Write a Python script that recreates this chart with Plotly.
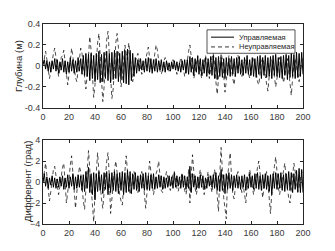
import plotly.graph_objects as go

t = list(range(0, 201))

depth_uncontrolled = [
    0.0, 0.08, 0.14, 0.06, -0.06, -0.12, -0.05, 0.06, 0.12, 0.17,
    0.07, -0.04, -0.10, -0.03, 0.08, 0.10, 0.15, 0.04, -0.09, -0.18,
    -0.08, 0.08, 0.17, 0.09, -0.03, -0.11, -0.15, -0.02, 0.10, 0.17,
    0.12, 0.0, -0.12, -0.22, -0.08, 0.12, 0.28, 0.15, -0.08, -0.30,
    -0.18, 0.06, 0.22, 0.31, 0.10, -0.15, -0.34, -0.20, 0.05, 0.25,
    0.33, 0.12, -0.12, -0.31, -0.22, 0.02, 0.22, 0.31, 0.18, -0.04,
    -0.20, -0.12, 0.08, 0.20, 0.12, 0.06, 0.22, 0.08, -0.06, -0.15,
    -0.06, 0.04, 0.08, 0.12, 0.05, -0.03, -0.08, -0.05, 0.02, 0.08,
    0.12, 0.18, 0.08, -0.02, -0.05, 0.01, 0.12, 0.20, 0.15, 0.02,
    -0.05, -0.08, -0.03, 0.05, 0.08, 0.04, -0.02, -0.05, -0.02, 0.03,
    0.06, 0.03, -0.03, -0.08, -0.04, 0.02, 0.08, 0.04, -0.04, -0.10,
    -0.04, 0.06, 0.14, 0.20, 0.08, -0.04, -0.12, -0.06, 0.04, 0.10,
    0.05, -0.05, -0.12, -0.05, 0.05, 0.10, 0.04, -0.06, -0.12, -0.03,
    0.08, 0.12, 0.02, -0.15, -0.27, -0.12, 0.04, 0.12, 0.06, -0.10,
    -0.25, -0.14, 0.02, 0.10, 0.06, -0.04, -0.12, -0.18, -0.06, 0.05,
    0.10, 0.03, -0.05, -0.10, -0.04, 0.04, 0.07, 0.02, -0.06, -0.12,
    -0.05, 0.04, 0.08, 0.03, -0.08, -0.15, -0.18, -0.06, 0.04, 0.08,
    0.02, -0.10, -0.18, -0.24, -0.10, 0.03, 0.06, 0.0, -0.10, -0.20,
    -0.12, 0.0, 0.08, 0.03, -0.08, -0.16, -0.10, 0.0, 0.07, -0.05,
    -0.18, -0.28, -0.12, 0.02, 0.07, 0.0, -0.08, -0.15, -0.05, 0.05,
    0.10,
]

depth_controlled = [
    0.02, 0.06, -0.03, 0.05, -0.05, 0.04, -0.06, 0.05, -0.03, 0.07,
    -0.05, 0.06, -0.07, 0.04, -0.04, 0.07, -0.06, 0.05, -0.08, 0.04,
    -0.06, 0.08, -0.05, 0.06, -0.07, 0.05, -0.06, 0.08, -0.05, 0.07,
    -0.08, 0.10, -0.09, 0.12, -0.10, 0.11, -0.14, 0.12, -0.12, 0.10,
    -0.15, 0.12, -0.13, 0.14, -0.16, 0.11, -0.15, 0.13, -0.12, 0.14,
    -0.14, 0.12, -0.16, 0.13, -0.13, 0.15, -0.12, 0.14, -0.15, 0.12,
    -0.13, 0.14, -0.16, 0.15, -0.17, 0.16, -0.18, 0.15, -0.14, 0.12,
    -0.10, 0.08, -0.07, 0.06, -0.05, 0.07, -0.04, 0.05, -0.06, 0.07,
    -0.05, 0.08, -0.06, 0.07, -0.07, 0.06, -0.05, 0.07, -0.06, 0.05,
    -0.04, 0.06, -0.05, 0.04, -0.06, 0.05, -0.04, 0.03, -0.05, 0.04,
    -0.03, 0.05, -0.04, 0.04, -0.05, 0.03, -0.06, 0.05, -0.04, 0.06,
    -0.07, 0.06, -0.08, 0.09, -0.06, 0.08, -0.09, 0.07, -0.06, 0.09,
    -0.08, 0.07, -0.09, 0.06, -0.07, 0.08, -0.10, 0.07, -0.08, 0.09,
    -0.09, 0.10, -0.12, 0.08, -0.13, 0.09, -0.10, 0.08, -0.11, 0.07,
    -0.12, 0.08, -0.09, 0.07, -0.10, 0.09, -0.08, 0.07, -0.10, 0.08,
    -0.07, 0.09, -0.08, 0.06, -0.09, 0.08, -0.07, 0.10, -0.08, 0.06,
    -0.09, 0.08, -0.10, 0.07, -0.11, 0.09, -0.08, 0.10, -0.12, 0.08,
    -0.09, 0.10, -0.11, 0.08, -0.10, 0.09, -0.12, 0.10, -0.09, 0.11,
    -0.10, 0.08, -0.11, 0.09, -0.12, 0.10, -0.09, 0.11, -0.13, 0.10,
    -0.11, 0.12, -0.10, 0.11, -0.12, 0.13, -0.11, 0.12, -0.10, 0.13,
    -0.08,
]

pitch_uncontrolled = [
    0.0, 1.0, 1.8, 0.6, -0.8, -1.8, -0.9, 0.5, 1.2, 1.5,
    0.4, -0.6, -1.2, -0.4, 0.6, 1.4, 1.8, 0.2, -2.0, -1.0,
    0.5, 1.6, 2.5, 0.8, -1.2, -2.5, -1.0, 0.6, 1.5, 1.0,
    -0.6, -1.8, -2.6, -0.5, 1.5, 3.0, 1.2, -0.8, -2.4, -3.8,
    -1.0, 1.2, 2.8, 1.0, -0.6, -1.6, -2.5, -1.0, 1.0, 2.0,
    2.8, 0.6, -3.0, -1.5, 0.3, 1.2, 2.0, 0.8, -0.6, -1.2,
    -1.8, -2.2, -0.5, 1.2, 2.5, 1.0, -0.4, -1.2, -0.6, 0.4,
    1.0, 0.6, -0.5, -1.0, -0.4, 0.5, 1.0, 0.2, -1.2, -2.5,
    -1.0, 0.8, 2.0, 1.0, -0.4, -1.2, -0.5, 0.8, 1.2, 2.0,
    0.6, -0.8, -1.0, -0.3, 0.5, 1.0, 0.4, -0.5, -0.8, 0.0,
    0.8, 1.0, 0.2, -0.6, -0.9, -0.2, 0.6, 0.9, 0.2, -0.8,
    -1.2, -0.4, 1.2, -2.0, 0.6, 2.6, 1.0, -0.6, -1.2, -0.3,
    0.6, 1.2, 0.4, -0.6, -1.2, -0.5, 0.5, 1.0, 0.3, -0.6,
    -1.0, 0.2, 1.2, 0.2, -1.5, -2.8, 0.8, 3.3, 1.0, -1.5,
    -2.5, -3.5, 0.5, 1.8, 2.8, 0.6, -1.2, -1.6, -0.4, 0.6,
    1.0, 0.3, -0.6, -1.0, -0.3, -1.0, -2.0, -0.6, 0.6, 1.2,
    0.4, -0.6, -1.2, -0.4, 0.8, 1.4, 2.0, 0.6, -0.8, -1.5,
    -0.5, 0.4, 1.0, 0.0, -1.8, -3.0, -1.0, 0.6, 1.5, 2.4,
    0.8, -0.5, -1.2, -0.4, 0.6, 1.4, 1.8, 0.4, -0.8, -1.5,
    -2.0, -0.6, 0.8, 1.8, 1.0, -0.2, -1.0, -0.4, 0.4, 1.0,
    0.6,
]

pitch_controlled = [
    0.0, 0.8, -0.4, 0.5, -0.6, 0.4, -0.3, 0.6, -0.5, 0.4,
    -0.6, 0.3, -0.5, 0.5, -0.4, 0.6, -0.7, 0.4, -0.5, 0.7,
    -0.6, 0.5, -0.4, 0.8, -0.7, 0.5, -0.6, 0.7, -0.5, 0.6,
    -0.8, 0.7, -0.9, 1.0, -0.6, 1.4, -1.0, 0.8, -1.2, 0.9,
    -1.7, 0.8, -0.9, 1.0, -0.8, 0.7, -1.1, 0.9, -0.7, 1.0,
    -1.2, 0.8, -1.0, 0.9, -0.8, 1.0, -0.9, 0.8, -1.1, 0.9,
    -0.8, 1.0, -1.2, 0.9, -1.0, 1.1, -0.9, 1.0, -1.1, 0.8,
    -0.7, 0.9, -0.8, 0.6, -0.9, 0.7, -0.6, 0.8, -0.8, 0.9,
    -0.7, 0.6, -0.8, 0.7, -0.6, 0.8, -0.7, 0.5, -0.6, 0.7,
    -0.5, 0.6, -0.7, 0.5, -0.6, 0.4, -0.5, 0.6, -0.4, 0.5,
    -0.6, 0.9, -0.5, 0.6, -0.4, 0.5, -0.6, 0.7, -0.5, 0.6,
    -0.7, 0.5, -0.6, 1.5, -1.0, 0.8, -0.5, 0.6, -0.7, 0.5,
    -0.6, 0.7, -0.5, 0.6, -0.7, 0.4, -0.6, 0.5, -0.4, 0.6,
    -0.5, 0.7, -0.6, 0.9, -0.8, 0.6, -0.9, 1.2, -0.8, 0.7,
    -1.1, 0.8, -0.7, 0.9, -0.6, 0.7, -0.8, 0.6, -0.5, 0.7,
    -0.6, 0.5, -0.7, 0.6, -0.5, 0.7, -0.8, 0.5, -0.6, 0.8,
    -0.5, 0.6, -0.7, 0.8, -0.6, 0.9, -0.7, 0.6, -0.8, 0.7,
    -0.6, 0.8, -0.7, 0.6, -0.9, 0.7, -1.2, 0.8, -0.6, 0.9,
    -0.7, 0.8, -0.6, 0.9, -0.8, 0.7, -0.9, 0.8, -0.7, 1.0,
    -0.8, 0.9, -1.0, 0.8, -0.7, 1.1, -0.9, 1.3, -1.0, 1.2,
    -1.0,
]

series_names = ["Управляемая", "Неуправляемая"]
y_titles = ["Глубина (м)", "Дифферент (град)"]
x_ticks = [0, 20, 40, 60, 80, 100, 120, 140, 160, 180, 200]
depth_ticks = [-0.4, -0.2, 0, 0.2, 0.4]
depth_ticklabels = ["-0.4", "-0.2", "0", "0.2", "0.4"]
pitch_ticks = [-4, -2, 0, 2, 4]

axis_col = "#262626"
label_col = "#3a3a3a"
font_family = "Liberation Sans, Arial, sans-serif"
DASH = "4px,3px"

fig = go.Figure()

fig.add_trace(go.Scatter(x=t, y=depth_controlled, mode="lines", name=series_names[0],
                         line=dict(color="black", width=1.0), xaxis="x", yaxis="y"))
fig.add_trace(go.Scatter(x=t, y=depth_uncontrolled, mode="lines", name=series_names[1],
                         line=dict(color="black", width=0.7, dash=DASH), xaxis="x", yaxis="y"))
fig.add_trace(go.Scatter(x=t, y=pitch_controlled, mode="lines", name=series_names[0],
                         line=dict(color="black", width=1.0), xaxis="x2", yaxis="y2"))
fig.add_trace(go.Scatter(x=t, y=pitch_uncontrolled, mode="lines", name=series_names[1],
                         line=dict(color="black", width=0.7, dash=DASH), xaxis="x2", yaxis="y2"))

common_axis = dict(
    showgrid=False, zeroline=False, showline=True, linecolor=axis_col, linewidth=1,
    mirror="ticks", ticks="inside", ticklen=3, tickcolor=axis_col,
    tickfont=dict(size=9, color=label_col, family=font_family),
)

# The page body has an 8px default margin, so the figure is shifted by 8px.
# Target plot area in the window: x 43..303, y 19..224
def px(xp):
    return (xp - 43) / 260.0

def py(yp):
    return (224 - yp) / 205.0

shapes = [
    dict(type="rect", xref="paper", yref="paper", x0=px(207), x1=px(295), y0=py(49), y1=py(25),
         line=dict(color=axis_col, width=0.8), fillcolor="white", layer="above"),
    dict(type="line", xref="paper", yref="paper", x0=px(211), x1=px(234), y0=py(32.5), y1=py(32.5),
         line=dict(color="black", width=1.0), layer="above"),
    dict(type="line", xref="paper", yref="paper", x0=px(211), x1=px(234), y0=py(42.5), y1=py(42.5),
         line=dict(color="black", width=0.8, dash=DASH), layer="above"),
]

annotations = [
    dict(text=series_names[0], xref="paper", yref="paper", x=px(237), y=py(32.5), xanchor="left",
         yanchor="middle", showarrow=False, font=dict(size=7.5, color=axis_col, family=font_family)),
    dict(text=series_names[1], xref="paper", yref="paper", x=px(237), y=py(42.5), xanchor="left",
         yanchor="middle", showarrow=False, font=dict(size=7.5, color=axis_col, family=font_family)),
    dict(text=y_titles[0], xref="paper", yref="paper", x=px(19), y=py(62), xanchor="center",
         yanchor="middle", textangle=-90, showarrow=False, font=dict(size=9.5, color=axis_col, family=font_family)),
    dict(text=y_titles[1], xref="paper", yref="paper", x=px(27), y=py(181), xanchor="center",
         yanchor="middle", textangle=-90, showarrow=False, font=dict(size=9.5, color=axis_col, family=font_family)),
]

fig.update_layout(
    width=327, height=243,
    margin=dict(l=35, r=32, t=11, b=27),
    paper_bgcolor="white", plot_bgcolor="white",
    font=dict(family=font_family, color=axis_col, size=8),
    xaxis=dict(domain=[0, 1], range=[0, 200], tickvals=x_ticks, anchor="y", **common_axis),
    yaxis=dict(domain=[0.5805, 1], range=[-0.4, 0.4], tickvals=depth_ticks, ticktext=depth_ticklabels,
               anchor="x", **common_axis),
    xaxis2=dict(domain=[0, 1], range=[0, 200], tickvals=x_ticks, anchor="y2", **common_axis),
    yaxis2=dict(domain=[0, 0.4195], range=[-4, 4], tickvals=pitch_ticks, anchor="x2", **common_axis),
    shapes=shapes,
    annotations=annotations,
    showlegend=False,
)

fig.write_html("out.html")
